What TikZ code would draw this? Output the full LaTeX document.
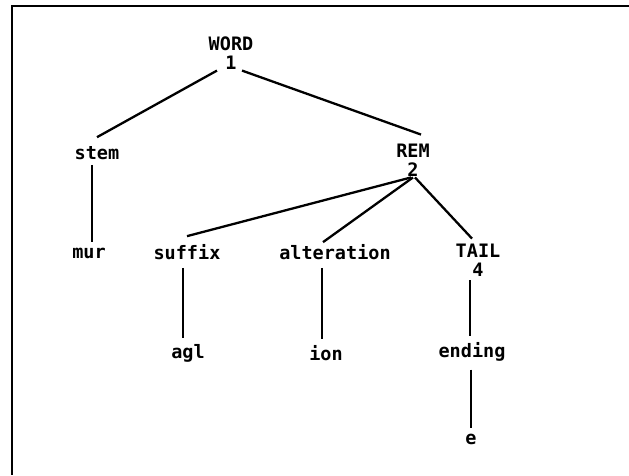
\documentclass[tikz,border=0pt]{standalone}
\usepackage{fontspec}
\newfontfamily\treefont{DejaVu Sans Mono}
\begin{document}
\begin{tikzpicture}[x=1pt,y=-1pt,
  lbl/.style={font=\treefont\bfseries\fontsize{18.5}{19}\selectfont, inner sep=0pt, align=center},
  branch/.style={line width=2.3pt},
  stalk/.style={line width=1.4pt},
  frame/.style={line width=2.6pt}]
  \useasboundingbox (0,0) rectangle (629,475);
  % open frame: top and left edges only
  \draw[frame] (629,6) -- (12,6) -- (12,475);

  % labels
  \node[lbl] (word) at (231,53) {WORD\\1};
  \node[lbl] (stem) at (97,153) {stem};
  \node[lbl] (mur) at (89,253) {mur};
  \node[lbl] (rem) at (413,160) {REM\\2};
  \node[lbl] (suffix) at (187,252) {suffix};
  \node[lbl] (alter) at (335,252) {alteration};
  \node[lbl] (tail) at (478,260) {TAIL\\4};
  \node[lbl] (agl) at (188,353) {agl};
  \node[lbl] (ion) at (326,353) {ion};
  \node[lbl] (ending) at (472,352) {ending};
  \node[lbl] (e) at (471,439) {e};

  % branches from the root and from REM
  \draw[branch] ([shift={(-14,1)}]word.south) -- ([shift={(0,-9)}]stem.north);
  \draw[branch] ([shift={(11,1)}]word.south) -- ([shift={(8,-9)}]rem.north);
  \draw[branch] ([shift={(-2,1)}]rem.south) -- ([shift={(0,-8)}]suffix.north);
  \draw[branch] ([shift={(0,1)}]rem.south) -- ([shift={(-12,-2)}]alter.north);
  \draw[branch] ([shift={(2,1)}]rem.south) -- ([shift={(-6,-5)}]tail.north);

  % single-child stalks
  \draw[stalk] ([shift={(-5,5)}]stem.south) -- ([shift={(3,-5)}]mur.north);
  \draw[stalk] ([shift={(-4,8)}]suffix.south) -- ([shift={(-5,-6)}]agl.north);
  \draw[stalk] ([shift={(-13,8)}]alter.south) -- ([shift={(-4,-6)}]ion.north);
  \draw[stalk] ([shift={(-8,4)}]tail.south) -- ([shift={(-2,-6)}]ending.north);
  \draw[stalk] ([shift={(-1,8)}]ending.south) -- ([shift={(0,-5)}]e.north);
\end{tikzpicture}
\end{document}
